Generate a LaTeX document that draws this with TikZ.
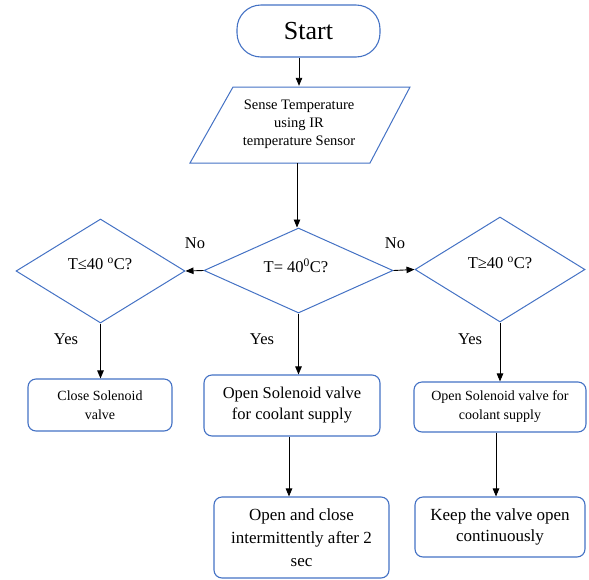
\documentclass[tikz,border=0pt]{standalone}
\usepackage{fontspec}
\setmainfont{Liberation Serif}
\usetikzlibrary{shapes.geometric,arrows.meta}
\definecolor{boxblue}{RGB}{68,114,196}
\tikzset{
  x=1pt,y=-1pt,
  conn/.style={draw=black,line width=0.9pt,-{Triangle[length=8pt,width=6.5pt]}},
  rbox/.style={draw=boxblue,line width=1.1pt,rounded corners=8pt,align=center,inner sep=0pt},
  dia/.style={draw=boxblue,line width=1pt,diamond,inner sep=0pt},
  dtext/.style={inner sep=0pt,font=\fontsize{16.5}{19}\selectfont},
  lbl/.style={font=\fontsize{16.5}{19}\selectfont,inner sep=0pt}
}
\begin{document}
\begin{tikzpicture}
\useasboundingbox (0,0) rectangle (589,579);
% Start
\node[rbox,rounded corners=24pt,minimum width=143pt,minimum height=52pt,font=\fontsize{26}{30}\selectfont] (start) at (308.5,31) {Start};
% Sense (parallelogram)
\draw[boxblue,line width=1pt] (233,87)--(410,87)--(370,163)--(190,163)--cycle;
\node[align=center,inner sep=0pt,minimum width=170pt,minimum height=76pt,font=\fontsize{14.5}{18}\selectfont] (sense) at (299,124) {Sense Temperature\\using IR\\temperature Sensor};
% Diamonds
\node[dia,minimum width=189pt,minimum height=85pt] (dc) at (298.5,270.5) {};
\node[dtext] (tc) at (296,266) {T= 40\textsuperscript{0}C?};
\node[dia,minimum width=169pt,minimum height=104pt] (dl) at (100.5,271) {};
\node[dtext] (tl) at (100,264) {T≤40 \textsuperscript{o}C?};
\node[dia,minimum width=170pt,minimum height=105pt] (dr) at (500,269.5) {};
\node[dtext] (tr) at (500,263) {T≥40 \textsuperscript{o}C?};
% Boxes
\node[rbox,minimum width=144pt,minimum height=52pt,font=\fontsize{14}{19}\selectfont] (close) at (100,405) {Close Solenoid\\valve};
\node[rbox,minimum width=176pt,minimum height=61pt,font=\fontsize{16.5}{21}\selectfont] (openc) at (292,405.5) {Open Solenoid valve\\for coolant supply};
\node[rbox,minimum width=172pt,minimum height=50pt,font=\fontsize{14}{19}\selectfont] (openr) at (500,407) {Open Solenoid valve for\\coolant supply};
\node[rbox,minimum width=175pt,minimum height=81pt,font=\fontsize{17}{23}\selectfont] (inter) at (301.5,537.5) {Open and close\\intermittently after 2\\sec};
\node[rbox,minimum width=170pt,minimum height=60pt,font=\fontsize{17}{21}\selectfont] (keep) at (500,527) {Keep the valve open\\continuously};
% Connectors
\coordinate (s1) at (299,57);
\draw[conn] (start.south -| s1) -- (sense.north -| s1);
\coordinate (s2) at (297,163);
\draw[conn] (s2) -- (dc.north -| s2);
\draw[conn] (dc.west) -- (dl.east);
\draw[conn] (dc.east) -- (dr.west);
\draw[conn] (dl.south) -- (close.north -| dl.south);
\draw[conn] (dc.south) -- (openc.north -| dc.south);
\draw[conn] (dr.south) -- (openr.north -| dr.south);
\coordinate (c1) at (289,0);
\draw[conn] (openc.south -| c1) -- (inter.north -| c1);
\coordinate (c2) at (496,0);
\draw[conn] (openr.south -| c2) -- (keep.north -| c2);
% Labels
\node[lbl] (no1) at (195,243) {No};
\node[lbl] (no2) at (395,243) {No};
\node[lbl] (y1) at (66,339) {Yes};
\node[lbl] (y2) at (262,339) {Yes};
\node[lbl] (y3) at (470,339) {Yes};
\end{tikzpicture}
\end{document}
